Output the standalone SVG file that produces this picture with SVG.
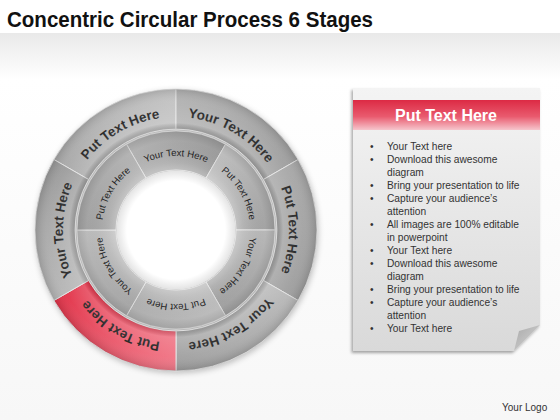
<svg xmlns="http://www.w3.org/2000/svg" width="560" height="420" viewBox="0 0 560 420">
<style>
.seg{stroke:#e2e2e2;stroke-width:1}
.ot{font-family:"Liberation Sans",Arial,sans-serif;font-weight:bold;font-size:13.5px;fill:#1a1a1a}
.it{font-family:"Liberation Sans",Arial,sans-serif;font-size:9.6px;fill:#1a1a1a}
.bl{font-family:"Liberation Sans",Arial,sans-serif;font-size:10.2px;fill:#333}
</style>
<defs>
<linearGradient id="bg" x1="0" y1="0" x2="0" y2="1">
<stop offset="0" stop-color="#e9e9e9"/><stop offset="0.12" stop-color="#ffffff"/><stop offset="1" stop-color="#f7f7f7"/>
</linearGradient>
<linearGradient id="gA" x1="0" y1="1" x2="1" y2="0"><stop offset="0" stop-color="#a4a4a4"/><stop offset="1" stop-color="#c6c6c6"/></linearGradient>
<linearGradient id="gB" x1="0" y1="0" x2="1" y2="1"><stop offset="0" stop-color="#b4b4b4"/><stop offset="1" stop-color="#9c9c9c"/></linearGradient>
<linearGradient id="gC" x1="0" y1="0" x2="0" y2="1"><stop offset="0" stop-color="#a8a8a8"/><stop offset="1" stop-color="#9e9e9e"/></linearGradient>
<linearGradient id="gD" x1="1" y1="0" x2="0" y2="1"><stop offset="0" stop-color="#bcbcbc"/><stop offset="1" stop-color="#9e9e9e"/></linearGradient>
<linearGradient id="gE" x1="0" y1="0" x2="1" y2="1"><stop offset="0" stop-color="#e0283f"/><stop offset="1" stop-color="#f27a8a"/></linearGradient>
<linearGradient id="gF" x1="0" y1="1" x2="0" y2="0"><stop offset="0" stop-color="#b8b8b8"/><stop offset="1" stop-color="#9a9a9a"/></linearGradient>
<linearGradient id="iT" x1="0" y1="0" x2="1" y2="0"><stop offset="0" stop-color="#b8b8b8"/><stop offset="1" stop-color="#9e9e9e"/></linearGradient>
<linearGradient id="iUR" x1="0" y1="0" x2="1" y2="1"><stop offset="0" stop-color="#c8c8c8"/><stop offset="1" stop-color="#a4a4a4"/></linearGradient>
<linearGradient id="iR" x1="0" y1="0" x2="0" y2="1"><stop offset="0" stop-color="#bcbcbc"/><stop offset="1" stop-color="#a2a2a2"/></linearGradient>
<linearGradient id="iB" x1="1" y1="0" x2="0" y2="0"><stop offset="0" stop-color="#c2c2c2"/><stop offset="1" stop-color="#b2b2b2"/></linearGradient>
<linearGradient id="iLL" x1="0" y1="1" x2="0" y2="0"><stop offset="0" stop-color="#a8a8a8"/><stop offset="1" stop-color="#c0c0c0"/></linearGradient>
<linearGradient id="iUL" x1="0" y1="1" x2="1" y2="0"><stop offset="0" stop-color="#a4a4a4"/><stop offset="1" stop-color="#bcbcbc"/></linearGradient>
<radialGradient id="bevO" gradientUnits="userSpaceOnUse" cx="176" cy="230" r="141">
<stop offset="0.716" stop-color="#000" stop-opacity="0.12"/>
<stop offset="0.76" stop-color="#fff" stop-opacity="0.18"/>
<stop offset="0.9" stop-color="#fff" stop-opacity="0.04"/>
<stop offset="1" stop-color="#000" stop-opacity="0.14"/>
</radialGradient>
<radialGradient id="bevI" gradientUnits="userSpaceOnUse" cx="176" cy="230" r="99">
<stop offset="0.606" stop-color="#fff" stop-opacity="0.25"/>
<stop offset="0.68" stop-color="#fff" stop-opacity="0.08"/>
<stop offset="0.9" stop-color="#000" stop-opacity="0.02"/>
<stop offset="1" stop-color="#000" stop-opacity="0.12"/>
</radialGradient>
<radialGradient id="hole" gradientUnits="userSpaceOnUse" cx="176" cy="230" r="60">
<stop offset="0.82" stop-color="#ffffff"/><stop offset="1" stop-color="#e2e2e2"/>
</radialGradient>
<linearGradient id="paper" x1="0" y1="0" x2="0" y2="1"><stop offset="0" stop-color="#f4f4f4"/><stop offset="1" stop-color="#d9d9d9"/></linearGradient>
<linearGradient id="hdr" x1="0" y1="0" x2="0" y2="1"><stop offset="0" stop-color="#dc2a44"/><stop offset="0.55" stop-color="#e95a6e"/><stop offset="1" stop-color="#f6c6cd"/></linearGradient>
<linearGradient id="fold" x1="0" y1="0" x2="1" y2="1"><stop offset="0" stop-color="#a8a8a8"/><stop offset="1" stop-color="#d8d8d8"/></linearGradient>
<filter id="sh" x="-20%" y="-20%" width="140%" height="140%"><feGaussianBlur stdDeviation="3"/></filter>
<filter id="psh" x="-10%" y="-10%" width="120%" height="120%"><feDropShadow dx="-1.5" dy="2" stdDeviation="1.5" flood-color="#000" flood-opacity="0.35"/></filter>
<path id="to1" d="M78.14,173.5 A113,113 0 0 1 176,117"/>
<path id="to2" d="M176,117 A113,113 0 0 1 273.86,173.5"/>
<path id="to3" d="M273.86,173.5 A113,113 0 0 1 273.86,286.5"/>
<path id="to4" d="M273.86,286.5 A113,113 0 0 1 176,343"/>
<path id="to5" d="M176,343 A113,113 0 0 1 78.14,286.5"/>
<path id="to6" d="M78.14,286.5 A113,113 0 0 1 78.14,173.5"/>
<path id="ti1" d="M139,165.91 A74,74 0 0 1 213,165.91"/>
<path id="ti2" d="M213,165.91 A74,74 0 0 1 250,230"/>
<path id="ti3" d="M250,230 A74,74 0 0 1 213,294.09"/>
<path id="ti4" d="M213,294.09 A74,74 0 0 1 139,294.09"/>
<path id="ti5" d="M139,294.09 A74,74 0 0 1 102,230"/>
<path id="ti6" d="M102,230 A74,74 0 0 1 139,165.91"/>
</defs>

<rect x="0" y="0" width="560" height="420" fill="#ffffff"/>
<rect x="0" y="33" width="560" height="387" fill="url(#bg)"/>

<g id="title">
<text x="7" y="27" font-family="Liberation Sans,Arial,sans-serif" font-weight="bold" font-size="22" fill="#111" textLength="366" lengthAdjust="spacingAndGlyphs">Concentric Circular Process 6 Stages</text>
</g>

<circle cx="177" cy="232" r="141" fill="#000" opacity="0.25" filter="url(#sh)"/>

<g id="outer-put-text-here-1">
<path class="seg" fill="url(#gA)" d="M53.89,159.5 A141,141 0 0 1 176,89 L176,129 A101,101 0 0 0 88.53,179.5 Z"/>
<text class="ot"><textPath href="#to1" startOffset="50%" text-anchor="middle">Put Text Here</textPath></text>
</g>
<g id="outer-your-text-here-1">
<path class="seg" fill="url(#gB)" d="M176,89 A141,141 0 0 1 298.11,159.5 L263.47,179.5 A101,101 0 0 0 176,129 Z"/>
<text class="ot"><textPath href="#to2" startOffset="50%" text-anchor="middle">Your Text Here</textPath></text>
</g>
<g id="outer-put-text-here-2">
<path class="seg" fill="url(#gC)" d="M298.11,159.5 A141,141 0 0 1 298.11,300.5 L263.47,280.5 A101,101 0 0 0 263.47,179.5 Z"/>
<text class="ot"><textPath href="#to3" startOffset="50%" text-anchor="middle">Put Text Here</textPath></text>
</g>
<g id="outer-your-text-here-2">
<path class="seg" fill="url(#gD)" d="M298.11,300.5 A141,141 0 0 1 176,371 L176,331 A101,101 0 0 0 263.47,280.5 Z"/>
<text class="ot"><textPath href="#to4" startOffset="50%" text-anchor="middle">Your Text Here</textPath></text>
</g>
<g id="outer-put-text-here-red">
<path class="seg" fill="url(#gE)" d="M176,371 A141,141 0 0 1 53.89,300.5 L88.53,280.5 A101,101 0 0 0 176,331 Z"/>
<text class="ot"><textPath href="#to5" startOffset="50%" text-anchor="middle">Put Text Here</textPath></text>
</g>
<g id="outer-your-text-here-3">
<path class="seg" fill="url(#gF)" d="M53.89,300.5 A141,141 0 0 1 53.89,159.5 L88.53,179.5 A101,101 0 0 0 88.53,280.5 Z"/>
<text class="ot"><textPath href="#to6" startOffset="50%" text-anchor="middle">Your Text Here</textPath></text>
</g>
<path d="M176,89 A141,141 0 1 1 175.99,89 Z M176,129 A101,101 0 1 0 176.01,129 Z" fill="url(#bevO)" fill-rule="evenodd" pointer-events="none"/>

<g id="inner-your-text-here-1">
<path class="seg" fill="url(#iT)" d="M126.5,144.26 A99,99 0 0 1 225.5,144.26 L206,178.04 A60,60 0 0 0 146,178.04 Z"/>
<text class="it"><textPath href="#ti1" startOffset="50%" text-anchor="middle">Your Text Here</textPath></text>
</g>
<g id="inner-put-text-here-1">
<path class="seg" fill="url(#iUR)" d="M225.5,144.26 A99,99 0 0 1 275,230 L236,230 A60,60 0 0 0 206,178.04 Z"/>
<text class="it"><textPath href="#ti2" startOffset="50%" text-anchor="middle">Put Text Here</textPath></text>
</g>
<g id="inner-your-text-here-2">
<path class="seg" fill="url(#iR)" d="M275,230 A99,99 0 0 1 225.5,315.74 L206,281.96 A60,60 0 0 0 236,230 Z"/>
<text class="it"><textPath href="#ti3" startOffset="50%" text-anchor="middle">Your Text Here</textPath></text>
</g>
<g id="inner-put-text-here-2">
<path class="seg" fill="url(#iB)" d="M225.5,315.74 A99,99 0 0 1 126.5,315.74 L146,281.96 A60,60 0 0 0 206,281.96 Z"/>
<text class="it"><textPath href="#ti4" startOffset="50%" text-anchor="middle">Put Text Here</textPath></text>
</g>
<g id="inner-your-text-here-3">
<path class="seg" fill="url(#iLL)" d="M126.5,315.74 A99,99 0 0 1 77,230 L116,230 A60,60 0 0 0 146,281.96 Z"/>
<text class="it"><textPath href="#ti5" startOffset="50%" text-anchor="middle">Your Text Here</textPath></text>
</g>
<g id="inner-put-text-here-3">
<path class="seg" fill="url(#iUL)" d="M77,230 A99,99 0 0 1 126.5,144.26 L146,178.04 A60,60 0 0 0 116,230 Z"/>
<text class="it"><textPath href="#ti6" startOffset="50%" text-anchor="middle">Put Text Here</textPath></text>
</g>
<path d="M176,131 A99,99 0 1 1 175.99,131 Z M176,170 A60,60 0 1 0 176.01,170 Z" fill="url(#bevI)" fill-rule="evenodd" pointer-events="none"/>
<circle cx="176" cy="230" r="59.5" fill="url(#hole)"/>

<g id="panel">
<path d="M353,88 H540 V325 L514,351 H353 Z" fill="url(#paper)" filter="url(#psh)"/>
<path d="M540,325 L514,351 L519,331 Z" fill="url(#fold)"/>
<rect x="353" y="100" width="187" height="30" fill="url(#hdr)"/>
<text x="446" y="121" text-anchor="middle" font-family="Liberation Sans,Arial,sans-serif" font-weight="bold" font-size="16" fill="#ffffff">Put Text Here</text>
<g class="bl">
<text x="370" y="150">•</text><text x="387" y="150">Your Text here</text>
<text x="370" y="163">•</text><text x="387" y="163">Download this awesome</text>
<text x="387" y="176">diagram</text>
<text x="370" y="189">•</text><text x="387" y="189">Bring your presentation to life</text>
<text x="370" y="202">•</text><text x="387" y="202">Capture your audience’s</text>
<text x="387" y="215">attention</text>
<text x="370" y="228">•</text><text x="387" y="228">All images are 100% editable</text>
<text x="387" y="241">in powerpoint</text>
<text x="370" y="254">•</text><text x="387" y="254">Your Text here</text>
<text x="370" y="267">•</text><text x="387" y="267">Download this awesome</text>
<text x="387" y="280">diagram</text>
<text x="370" y="293">•</text><text x="387" y="293">Bring your presentation to life</text>
<text x="370" y="306">•</text><text x="387" y="306">Capture your audience’s</text>
<text x="387" y="319">attention</text>
<text x="370" y="332">•</text><text x="387" y="332">Your Text here</text>
</g>
</g>

<g id="logo">
<text x="502" y="411" font-family="Liberation Sans,Arial,sans-serif" font-size="10" fill="#333">Your Logo</text>
</g>
</svg>
